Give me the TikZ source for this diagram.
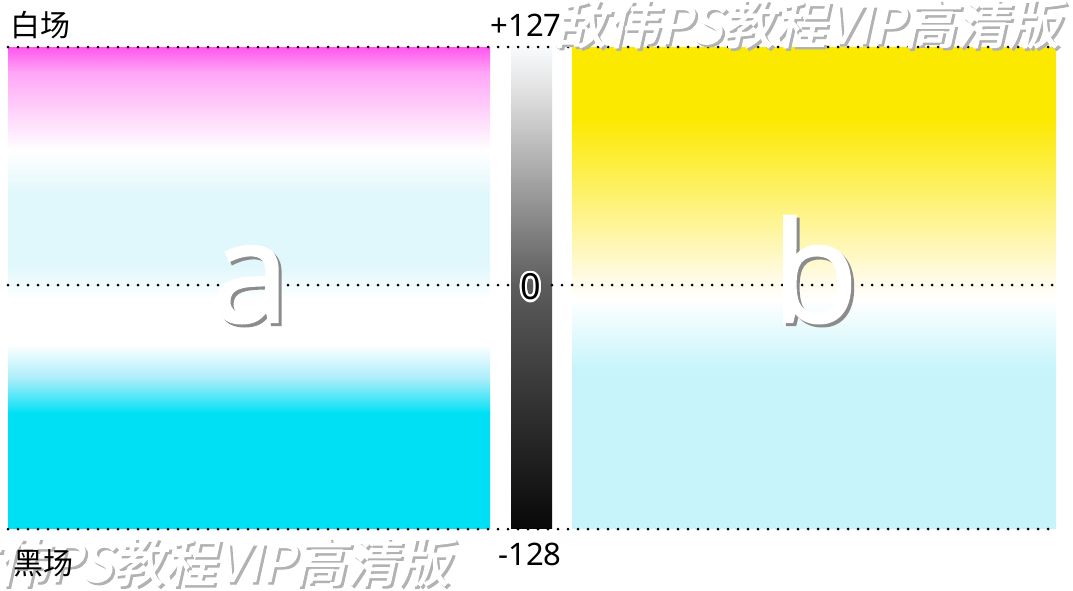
\documentclass[tikz,border=0pt]{standalone}
\usepackage{fontspec}
\setmainfont{Noto Sans}
\newfontfamily\cjk{Noto Sans CJK SC}
\newfontfamily\wmfont[FakeSlant=0.22,FakeBold=2]{Noto Sans CJK SC}
\newfontfamily\bigfont[FakeBold=1.6]{Open Sans}

\definecolor{magA}{RGB}{255,88,238}
\definecolor{magB}{RGB}{255,165,246}
\definecolor{cyanL}{RGB}{224,247,252}
\definecolor{cyanM}{RGB}{165,237,250}
\definecolor{cyanF}{RGB}{0,224,245}
\definecolor{cyanP}{RGB}{198,244,250}
\definecolor{yel}{RGB}{252,233,0}
\definecolor{yelL}{RGB}{255,251,232}
\definecolor{grayT}{RGB}{248,250,252}
\definecolor{grayU}{RGB}{222,222,222}
\definecolor{grayM}{RGB}{92,92,92}
\definecolor{grayB}{RGB}{8,8,8}

\begin{document}
\begin{tikzpicture}[x=1pt, y=-1pt,
    dotline/.style={line width=3pt, dash pattern=on 0pt off 10pt, line cap=round},
    tag/.style={inner sep=0pt, font=\fontsize{31}{31}\selectfont},
    zero/.style={inner sep=0pt, font=\fontsize{36}{36}\selectfont},
    letter/.style={inner sep=0pt, anchor=base, font=\bigfont\fontsize{140}{140}\selectfont},
    wmark/.style={inner sep=0pt, font=\wmfont\fontsize{52}{52}\selectfont}
]
    \clip (0,0) rectangle (1073,590);
    \fill[white] (0,0) rectangle (1073,590);

    % channel a
    \foreach \ya/\yb/\ca/\cb in {48/72/magA/magB, 72/150/magB/white, 150/195/white/cyanL,
        195/265/cyanL/cyanL, 265/300/cyanL/white, 300/345/white/white,
        345/380/white/cyanM, 380/413/cyanM/cyanF, 413/528/cyanF/cyanF}
        \shade[top color=\ca, bottom color=\cb] (8,\ya-0.5) rectangle (490,\yb+0.5);

    % lightness bar
    \foreach \ya/\yb/\ca/\cb in {48/95/grayT/grayU, 95/285/grayU/grayM, 285/528/grayM/grayB}
        \shade[top color=\ca, bottom color=\cb] (511,\ya-0.5) rectangle (552,\yb+0.5);

    % channel b
    \foreach \ya/\yb/\ca/\cb in {48/120/yel/yel, 120/280/yel/yelL, 280/300/yelL/white,
        300/370/white/cyanP, 370/528/cyanP/cyanP}
        \shade[top color=\ca, bottom color=\cb] (572,\ya-0.5) rectangle (1056,\yb+0.5);

    \draw[dotline] (8,47) -- (1058,47);
    \draw[dotline] (8,285) -- (511,285);
    \draw[dotline] (552,285) -- (1058,285);
    \draw[dotline] (8,529) -- (1058,529);

    % watermark
    \foreach \p/\q/\r in {1060/24/top, 450/562/bot} {
        \node[wmark, anchor=east, text=black!30] (wm\r s) at (\p+2.5,\q+2.5) {敌伟PS教程VIP高清版};
        \node[wmark, anchor=east, text=white] (wm\r) at (\p,\q) {敌伟PS教程VIP高清版};
    }

    \node[letter, text=black!45] (ashadow) at (253,325) {a};
    \node[letter, text=white] (a) at (250,322) {a};
    \node[letter, text=black!45] (bshadow) at (818,325) {b};
    \node[letter, text=white] (b) at (815,322) {b};

    \node[tag, font=\cjk\fontsize{30}{30}\selectfont] (white) at (40,25) {白场};
    \node[tag, font=\cjk\fontsize{30}{30}\selectfont] (black) at (43,563) {黑场};
    \node[tag] (max) at (526,25) {+127};
    \node[tag] (min) at (530,554) {-128};
    \foreach \a in {0,30,...,330}
        \node[zero, text=white, shift={(\a:2.2)}] at (531,287) {0};
    \node[zero] (mid) at (531,287) {0};
\end{tikzpicture}
\end{document}
